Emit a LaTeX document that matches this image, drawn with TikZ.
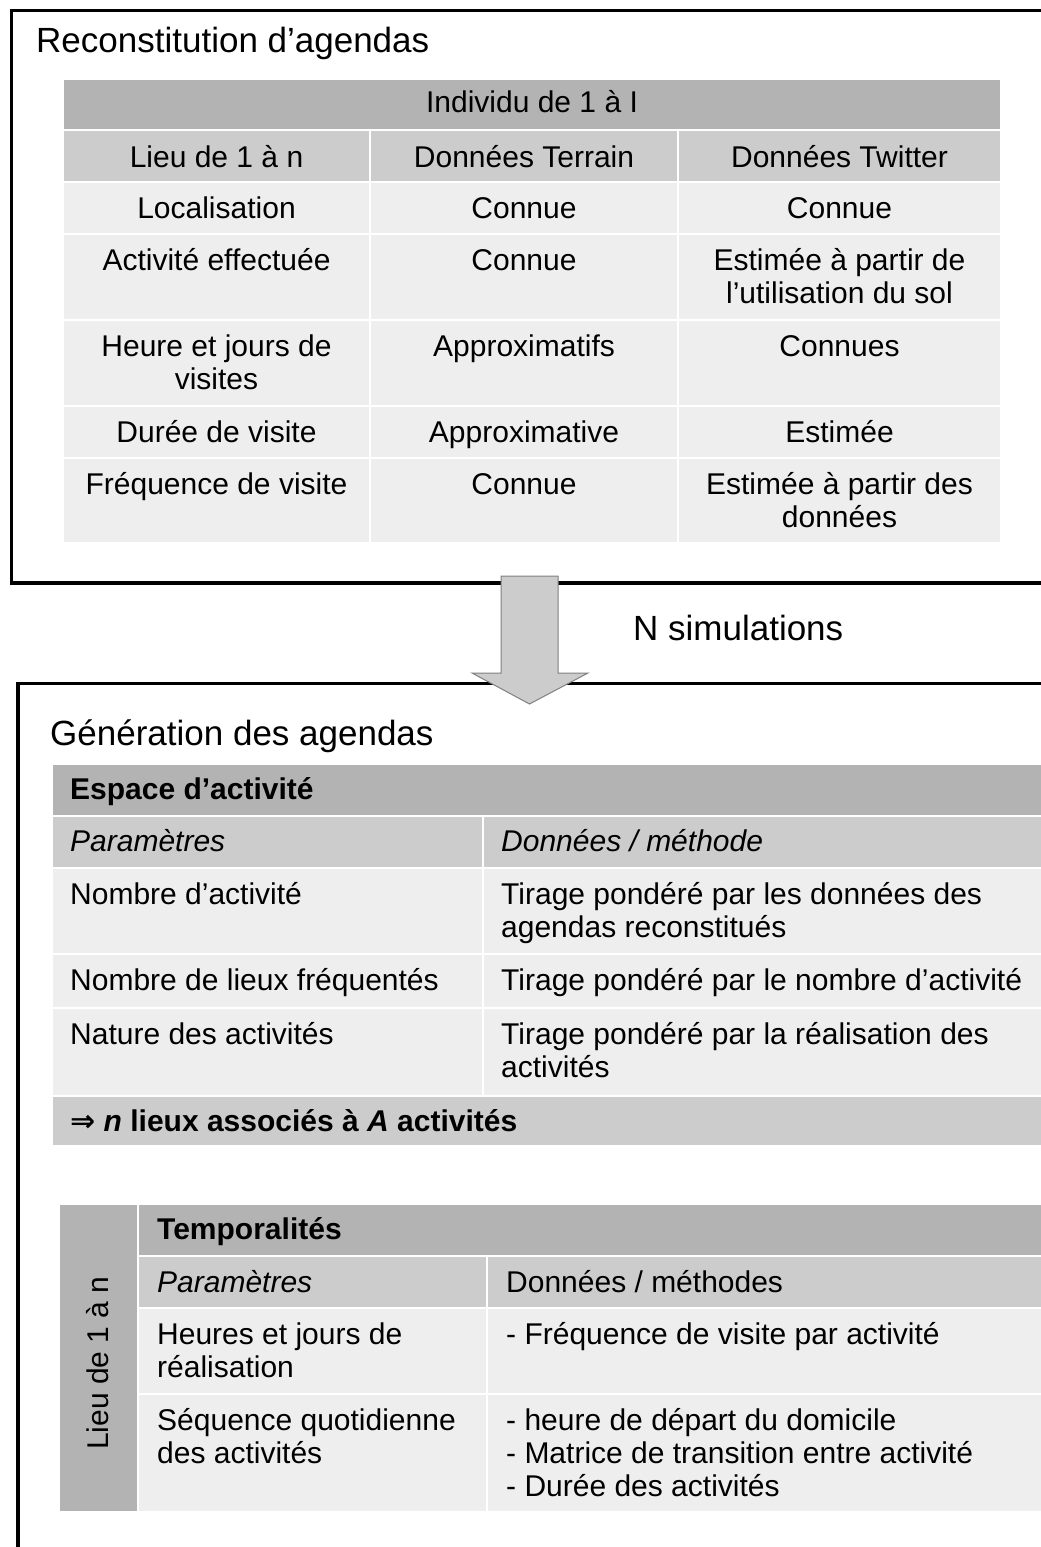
\documentclass[tikz,border=0pt]{standalone}
\usepackage{fontspec}
\setmainfont{Liberation Sans}
\newfontfamily\djv{DejaVu Sans}
\definecolor{hdr}{HTML}{B3B3B3}
\definecolor{sub}{HTML}{CCCCCC}
\definecolor{bod}{HTML}{EEEEEE}
\definecolor{arrfill}{HTML}{CCCCCC}
\definecolor{arredge}{HTML}{808080}
\newcommand{\ctab}[1]{\begin{tabular}[t]{@{}c@{}}#1\end{tabular}}
\newcommand{\ltab}[1]{\begin{tabular}[t]{@{}l@{}}#1\end{tabular}}
\tikzset{
  cellH/.style={fill=hdr, draw=white, line width=1.5pt},
  cellS/.style={fill=sub, draw=white, line width=1.5pt},
  cellB/.style={fill=bod, draw=white, line width=1.5pt},
  frame/.style={draw=black, line width=3.5pt},
  ttl/.style={inner sep=0pt, anchor=base west, font=\fontsize{35}{40}\selectfont},
  ct/.style={inner sep=0pt, anchor=base, font=\fontsize{30}{33}\selectfont},
  lt/.style={inner sep=0pt, anchor=base west, font=\fontsize{30}{33}\selectfont},
  blockarrow/.style={fill=arrfill, draw=arredge, line width=1pt, line join=miter}
}
\begin{document}
\begin{tikzpicture}[x=1pt,y=-1pt]
\useasboundingbox (0,0) rectangle (1041,1547);
\clip (0,0) rectangle (1041,1547);
\fill[white] (0,0) rectangle (1041,1547);

% ---------- top frame ----------
\draw[frame] (11.5,10.5) rectangle (1070,583);
\node[ttl] (t1) at (36,52) {Reconstitution d’agendas};

% table 1 cells
\path[cellH] (63,79) rectangle (1001,130);
\foreach \ya/\yb/\st in {130/182/cellS,182/234/cellB,234/320/cellB,320/406/cellB,406/458/cellB,458/543/cellB}{
  \path[\st] (63,\ya) rectangle (370,\yb);
  \path[\st] (370,\ya) rectangle (678,\yb);
  \path[\st] (678,\ya) rectangle (1001,\yb);
}
\node[ct] (h1) at (532,112) {Individu de 1 à I};
\node[ct] (c11) at (216.5,167) {Lieu de 1 à n};
\node[ct] (c12) at (524,167) {Données Terrain};
\node[ct] (c13) at (839.5,167) {Données Twitter};
\node[ct] (c21) at (216.5,218) {Localisation};
\node[ct] (c22) at (524,218) {Connue};
\node[ct] (c23) at (839.5,218) {Connue};
\node[ct] (c31) at (216.5,270) {Activité effectuée};
\node[ct] (c32) at (524,270) {Connue};
\node[ct] (c33) at (839.5,270) {\ctab{Estimée à partir de\\l’utilisation du sol}};
\node[ct] (c41) at (216.5,356) {\ctab{Heure et jours de\\visites}};
\node[ct] (c42) at (524,356) {Approximatifs};
\node[ct] (c43) at (839.5,356) {Connues};
\node[ct] (c51) at (216.5,442) {Durée de visite};
\node[ct] (c52) at (524,442) {Approximative};
\node[ct] (c53) at (839.5,442) {Estimée};
\node[ct] (c61) at (216.5,494) {Fréquence de visite};
\node[ct] (c62) at (524,494) {Connue};
\node[ct] (c63) at (839.5,494) {\ctab{Estimée à partir des\\données}};

% ---------- bottom frame ----------
\draw[frame] (18,683.5) rectangle (1070,1580);

% ---------- block arrow ----------
\coordinate (arrS) at (529.5,576);
\coordinate (arrT) at (529.5,704);
\draw[blockarrow] (arrS) ++(-28.5,0) -- ++(57,0) -- ++(0,97) -- ++(30,0)
  -- (arrT) -- ++(-57.5,-31) -- ++(29,0) -- cycle;
\node[ttl] (nsim) at (633,640) {N simulations};

\node[ttl] (t2) at (50,745) {Génération des agendas};

% table 2
\path[cellH] (52,764) rectangle (1060,816);
\foreach \ya/\yb/\st in {816/868/cellS,868/954/cellB,954/1008/cellB,1008/1096/cellB}{
  \path[\st] (52,\ya) rectangle (483,\yb);
  \path[\st] (483,\ya) rectangle (1060,\yb);
}
\path[cellS] (52,1096) rectangle (1060,1146);
\node[lt] (e0) at (70,799) {\bfseries Espace d’activité};
\node[lt] (e11) at (70,851) {\itshape Paramètres};
\node[lt] (e12) at (501,851) {\itshape Données / méthode};
\node[lt] (e21) at (70,904) {Nombre d’activité};
\node[lt] (e22) at (501,904) {\ltab{Tirage pondéré par les données des\\agendas reconstitués}};
\node[lt] (e31) at (70,990) {Nombre de lieux fréquentés};
\node[lt] (e32) at (501,990) {Tirage pondéré par le nombre d’activité};
\node[lt] (e41) at (70,1044) {Nature des activités};
\node[lt] (e42) at (501,1044) {\ltab{Tirage pondéré par la réalisation des\\activités}};
\node[lt] (e5) at (70,1131) {\bfseries{\djv ⇒} {\itshape n} lieux associés à {\itshape A} activités};

% table 3
\path[cellH] (59,1204) rectangle (138,1512);
\path[cellH] (138,1204) rectangle (1060,1256);
\foreach \ya/\yb/\st in {1256/1308/cellS,1308/1394/cellB,1394/1512/cellB}{
  \path[\st] (138,\ya) rectangle (487,\yb);
  \path[\st] (487,\ya) rectangle (1060,\yb);
}
\node[ct, rotate=90] (lieu) at (108,1363) {Lieu de 1 à n};
\node[lt] (p0) at (157,1239) {\bfseries Temporalités};
\node[lt] (p11) at (157,1292) {\itshape Paramètres};
\node[lt] (p12) at (506,1292) {Données / méthodes};
\node[lt] (p21) at (157,1344) {\ltab{Heures et jours de\\réalisation}};
\node[lt] (p22) at (506,1344) {- Fréquence de visite par activité};
\node[lt] (p31) at (157,1430) {\ltab{Séquence quotidienne\\des activités}};
\node[lt] (p32) at (506,1430) {\ltab{- heure de départ du domicile\\- Matrice de transition entre activité\\- Durée des activités}};
\end{tikzpicture}
\end{document}
